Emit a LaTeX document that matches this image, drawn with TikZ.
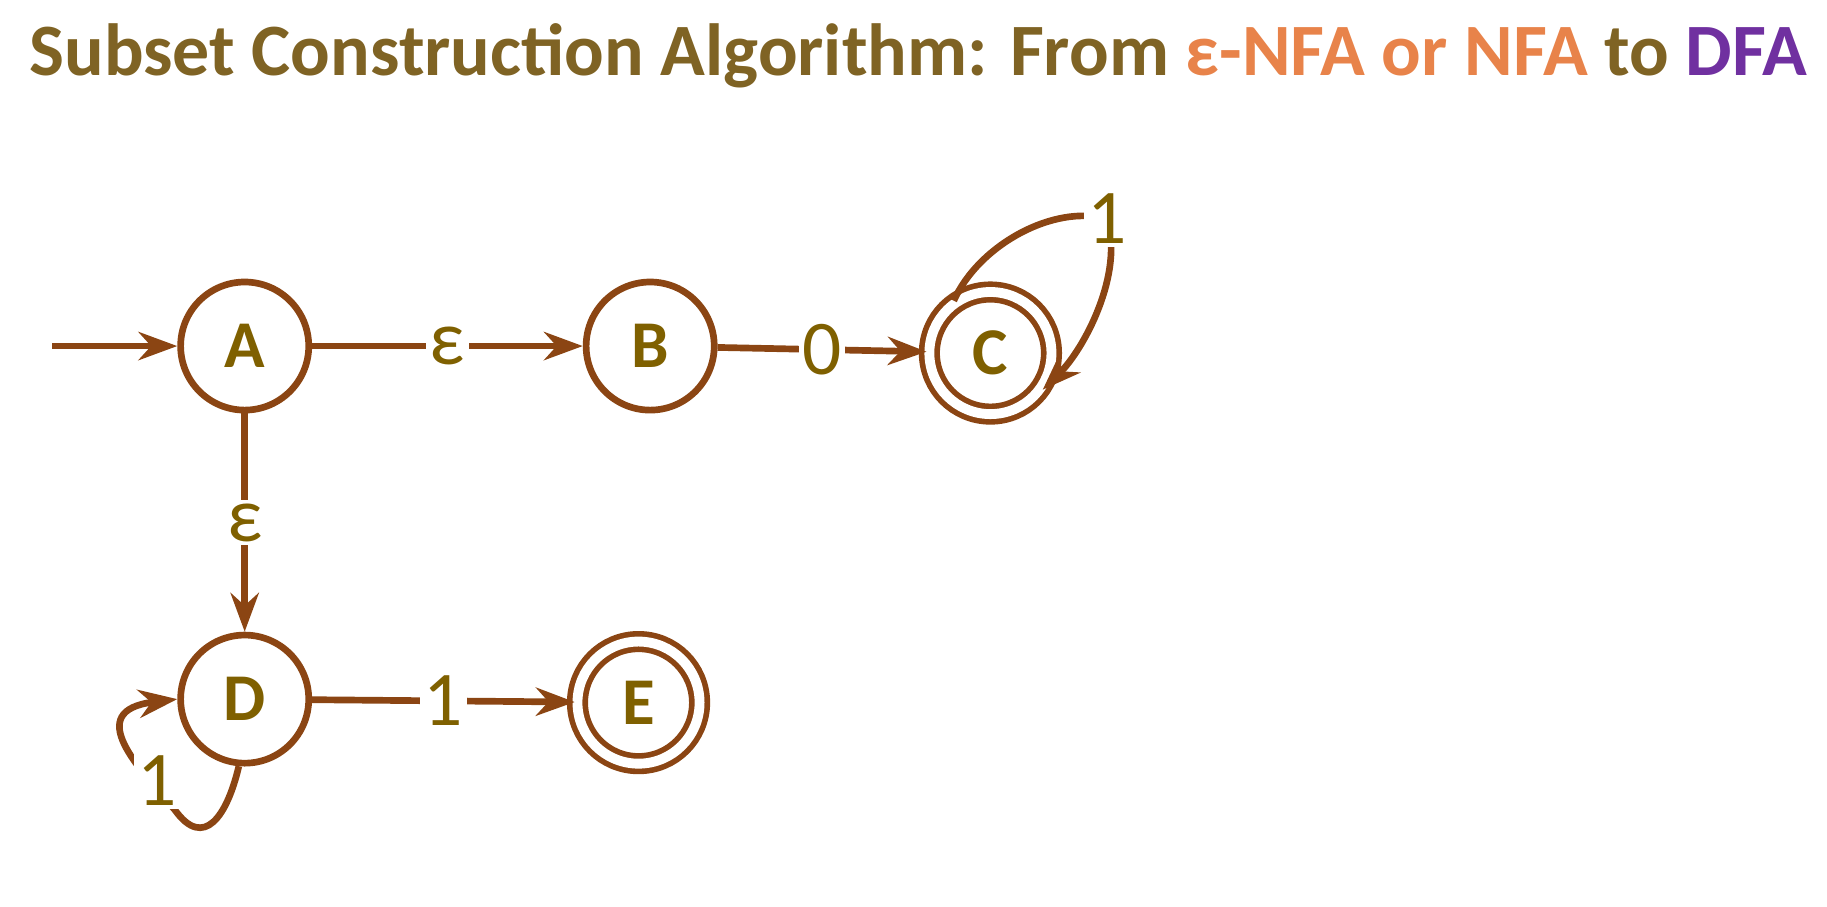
\documentclass[tikz,border=0pt]{standalone}
\usepackage{fontspec}
\setmainfont{Carlito}
\usetikzlibrary{arrows.meta}
\definecolor{brn}{HTML}{8B4513}
\definecolor{olv}{HTML}{7F6000}
\definecolor{ttl}{HTML}{7F6324}
\definecolor{org}{HTML}{E8834A}
\definecolor{pur}{HTML}{7030A0}
\begin{document}
\begin{tikzpicture}[x=0.01165cm,y=-0.01165cm,
  st/.style={circle,draw=brn,line width=1.9pt,minimum size=1.28cm,inner sep=0pt,font=\fontsize{19}{19}\selectfont\bfseries,text=olv},
  acc/.style={st,double=white,double distance=2.8pt,line width=1.6pt,minimum size=1.22cm},
  ed/.style={draw=brn,line width=1.9pt,-{Stealth[length=11pt,width=8pt]}},
  lb/.style={fill=white,inner sep=1pt,text=olv,font=\fontsize{22}{22}\selectfont}]
\path[use as bounding box] (0,0) rectangle (1568,778);
\node[font=\fontsize{21}{21}\selectfont\bfseries,text=ttl] (t) at (788,48) {Subset Construction Algorithm: From \textcolor{org}{ε-NFA or NFA} to \textcolor{pur}{DFA}};
\node[st] (A) at (210,297) {A};
\node[st] (B) at (558,297) {B};
\node[acc] (C) at (850,303) {C};
\node[st] (D) at (210,600) {D};
\node[acc] (E) at (548,603) {E};
\coordinate (s) at (45,297);
\draw[ed] (s) -- (A);
\draw[ed] (A) -- node[lb]{ε} (B);
\draw[ed] (B) -- node[lb]{0} (C);
\draw[ed] (A) -- node[lb]{ε} (D);
\draw[ed] (D) -- node[lb]{1} (E);
\draw[ed] (C.125) .. controls (840,210) and (905,175) .. node[lb,pos=1]{1} (950,188) .. controls (965,235) and (930,300) .. (C.-35);
\draw[ed] (D.-95) .. controls (195,700) and (175,730) .. (150,695) .. controls (120,660) and (70,610) .. (D.west);
\node[lb] (l) at (135,670) {1};
\end{tikzpicture}
\end{document}
